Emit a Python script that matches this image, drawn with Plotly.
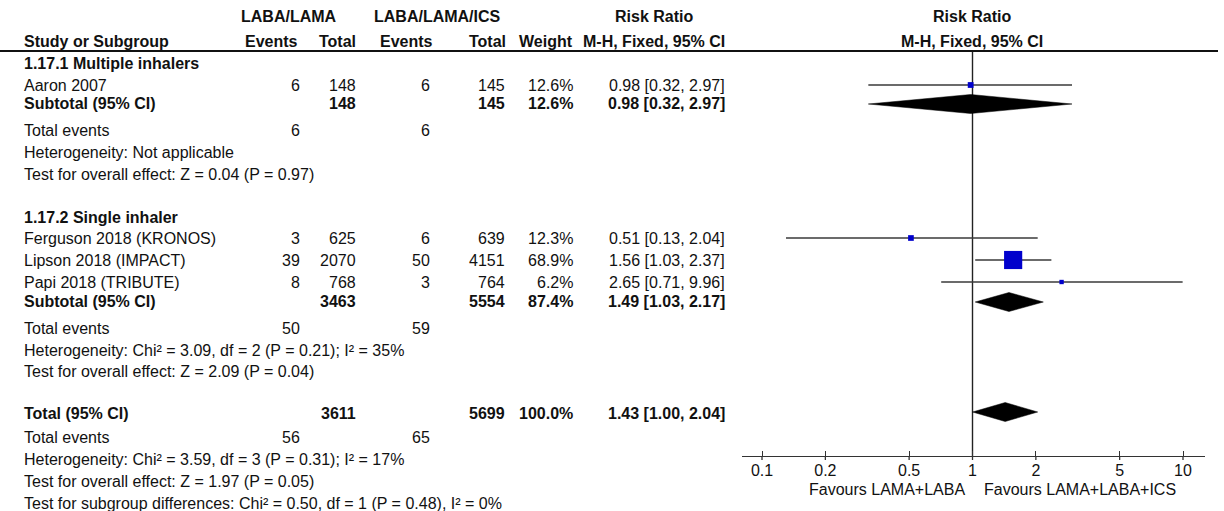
import plotly.graph_objects as go

# ---------------- data ----------------
studies = ["Aaron 2007", "Ferguson 2018 (KRONOS)", "Lipson 2018 (IMPACT)", "Papi 2018 (TRIBUTE)"]
study_group = [0, 1, 1, 1]
events_lal = [6, 3, 39, 8]
total_lal = [148, 625, 2070, 768]
events_ics = [6, 6, 50, 3]
total_ics = [145, 639, 4151, 764]
weights = [12.6, 12.3, 68.9, 6.2]
rr = [0.98, 0.51, 1.56, 2.65]
rr_lo = [0.32, 0.13, 1.03, 0.71]
rr_hi = [2.97, 2.04, 2.37, 9.96]

groups = ["1.17.1 Multiple inhalers", "1.17.2 Single inhaler"]
grp_total_lal = [148, 3463]
grp_total_ics = [145, 5554]
grp_events_lal = [6, 50]
grp_events_ics = [6, 59]
grp_weight = [12.6, 87.4]
grp_rr = [0.98, 1.49]
grp_lo = [0.32, 1.03]
grp_hi = [2.97, 2.17]
grp_het = ["Heterogeneity: Not applicable",
           "Heterogeneity: Chi² = 3.09, df = 2 (P = 0.21); I² = 35%"]
grp_test = ["Test for overall effect: Z = 0.04 (P = 0.97)",
            "Test for overall effect: Z = 2.09 (P = 0.04)"]

overall_total_lal = 3611
overall_total_ics = 5699
overall_events_lal = 56
overall_events_ics = 65
overall_weight = 100.0
overall_rr = 1.43
overall_lo = 1.00
overall_hi = 2.04
overall_het = "Heterogeneity: Chi² = 3.59, df = 3 (P = 0.31); I² = 17%"
overall_test = "Test for overall effect: Z = 1.97 (P = 0.05)"
subgroup_diff = "Test for subgroup differences: Chi² = 0.50, df = 1 (P = 0.48), I² = 0%"

tick_vals = [0.1, 0.2, 0.5, 1, 2, 5, 10]
tick_text = ["0.1", "0.2", "0.5", "1", "2", "5", "10"]
favours_left = "Favours LAMA+LABA"
favours_right = "Favours LAMA+LABA+ICS"

# ---------------- layout (pixel positions) ----------------
W, H = 1224, 511
FONT = "Liberation Sans, Arial, sans-serif"
FS = 16
TXT = "#111111"
COL = dict(label=22, ev1=302, n1=358, ev2=432, n2=507, w=575, ci=727)
Y_HDR1, Y_HDR2, Y_LINE = 16, 41, 51
group_rows = [
    dict(head=63, studies=[85], sub=103, te=130, het=152, test=174),
    dict(head=217, studies=[238, 260, 282], sub=301, te=328, het=350, test=371),
]
Y_TOT, Y_TE, Y_HET, Y_TEST, Y_DIFF = 413, 437, 459, 481, 503
Y_AXIS, Y_FAV = 456, 489
AX_LEFT, AX_RIGHT = 742, 1205
PX_ONE, PX_DECADE = 972.5, 210.5
DIAMOND_H = 9.5

annotations = []


def txt(x, y, s, anchor="left", bold=False, size=FS):
    annotations.append(dict(
        x=x / W, y=y, xref="paper", yref="y", text=("<b>%s</b>" % s) if bold else s,
        xanchor=anchor, yanchor="middle", showarrow=False,
        font=dict(family=FONT, size=size, color=TXT)))


def ci_text(est, lo, hi):
    return "%.2f [%.2f, %.2f]" % (est, lo, hi)


fig = go.Figure()

# header
txt(289, Y_HDR1, "LABA/LAMA", "center", True)
txt(437, Y_HDR1, "LABA/LAMA/ICS", "center", True)
txt(654, Y_HDR1, "Risk Ratio", "center", True)
txt(972, Y_HDR1, "Risk Ratio", "center", True)
txt(COL["label"], Y_HDR2, "Study or Subgroup", "left", True)
txt(300, Y_HDR2, "Events", "right", True)
txt(COL["n1"], Y_HDR2, "Total", "right", True)
txt(435, Y_HDR2, "Events", "right", True)
txt(508, Y_HDR2, "Total", "right", True)
txt(COL["w"], Y_HDR2, "Weight", "right", True)
txt(COL["ci"], Y_HDR2, "M-H, Fixed, 95% CI", "right", True)
txt(972, Y_HDR2, "M-H, Fixed, 95% CI", "center", True)

shapes = [dict(type="line", xref="paper", yref="y", x0=0, x1=1218 / W, y0=Y_LINE, y1=Y_LINE,
               line=dict(color="#111111", width=2))]

# vertical line of no effect
fig.add_trace(go.Scatter(x=[1, 1], y=[Y_LINE, Y_AXIS], mode="lines",
                         line=dict(color="#222222", width=1.4), hoverinfo="skip"))


def diamond(est, lo, hi, y):
    fig.add_trace(go.Scatter(x=[lo, est, hi, est, lo],
                             y=[y, y - DIAMOND_H, y, y + DIAMOND_H, y],
                             mode="lines", fill="toself", fillcolor="#000000",
                             line=dict(color="#000000", width=0.5), hoverinfo="skip"))


for g, rows in enumerate(group_rows):
    txt(COL["label"], rows["head"], groups[g], "left", True)
    idx = [i for i, sg in enumerate(study_group) if sg == g]
    for k, i in enumerate(idx):
        y = rows["studies"][k]
        txt(COL["label"], y, studies[i])
        txt(COL["ev1"], y, str(events_lal[i]), "right")
        txt(COL["n1"], y, str(total_lal[i]), "right")
        txt(COL["ev2"], y, str(events_ics[i]), "right")
        txt(COL["n2"], y, str(total_ics[i]), "right")
        txt(COL["w"], y, "%.1f%%" % weights[i], "right")
        txt(COL["ci"], y, ci_text(rr[i], rr_lo[i], rr_hi[i]), "right")
        fig.add_trace(go.Scatter(x=[rr_lo[i], rr_hi[i]], y=[y, y], mode="lines",
                                 line=dict(color="#3a3a3a", width=1.4), hoverinfo="skip"))
        fig.add_trace(go.Scatter(x=[rr[i]], y=[y], mode="markers",
                                 marker=dict(symbol="square", color="#0000CC",
                                             size=3 + 22 * weights[i] / 100,
                                             line=dict(width=0)), hoverinfo="skip"))
    ys = rows["sub"]
    txt(COL["label"], ys, "Subtotal (95% CI)", "left", True)
    txt(COL["n1"], ys, str(grp_total_lal[g]), "right", True)
    txt(COL["n2"], ys, str(grp_total_ics[g]), "right", True)
    txt(COL["w"], ys, "%.1f%%" % grp_weight[g], "right", True)
    txt(COL["ci"], ys, ci_text(grp_rr[g], grp_lo[g], grp_hi[g]), "right", True)
    diamond(grp_rr[g], grp_lo[g], grp_hi[g], ys + 1)
    txt(COL["label"], rows["te"], "Total events")
    txt(COL["ev1"], rows["te"], str(grp_events_lal[g]), "right")
    txt(COL["ev2"], rows["te"], str(grp_events_ics[g]), "right")
    txt(COL["label"], rows["het"], grp_het[g])
    txt(COL["label"], rows["test"], grp_test[g])

# overall
txt(COL["label"], Y_TOT, "Total (95% CI)", "left", True)
txt(COL["n1"], Y_TOT, str(overall_total_lal), "right", True)
txt(COL["n2"], Y_TOT, str(overall_total_ics), "right", True)
txt(COL["w"], Y_TOT, "%.1f%%" % overall_weight, "right", True)
txt(COL["ci"], Y_TOT, ci_text(overall_rr, overall_lo, overall_hi), "right", True)
diamond(overall_rr, overall_lo, overall_hi, Y_TOT - 1)
txt(COL["label"], Y_TE, "Total events")
txt(COL["ev1"], Y_TE, str(overall_events_lal), "right")
txt(COL["ev2"], Y_TE, str(overall_events_ics), "right")
txt(COL["label"], Y_HET, overall_het)
txt(COL["label"], Y_TEST, overall_test)
txt(COL["label"], Y_DIFF, subgroup_diff)

# lower halves of tick marks (axis draws upper halves, labels sit close to the line)
tx, ty = [], []
for t in tick_vals:
    tx += [t, t, None]
    ty += [Y_AXIS, Y_AXIS + 4, None]
fig.add_trace(go.Scatter(x=tx, y=ty, mode="lines", line=dict(color="#333333", width=1.3),
                         hoverinfo="skip"))

txt(967, Y_FAV, favours_left, "right", size=16)
txt(982, Y_FAV, favours_right, "left", size=16)

log_left = -(PX_ONE - AX_LEFT) / PX_DECADE
log_right = (AX_RIGHT - PX_ONE) / PX_DECADE

fig.update_layout(
    width=W, height=H, margin=dict(l=0, r=0, t=0, b=0),
    paper_bgcolor="white", plot_bgcolor="rgba(0,0,0,0)", showlegend=False,
    font=dict(family=FONT, size=FS, color=TXT),
    xaxis=dict(type="log", range=[log_left, log_right],
               domain=[AX_LEFT / W, AX_RIGHT / W], anchor="free",
               position=(H - Y_AXIS) / H,
               showline=True, linecolor="#333333", linewidth=1.3,
               ticks="inside", ticklen=5, tickwidth=1.3, tickcolor="#333333",
               tickvals=tick_vals, ticktext=tick_text,
               tickfont=dict(family=FONT, size=16, color=TXT),
               showgrid=False, zeroline=False),
    yaxis=dict(range=[H, 0], domain=[0, 1], visible=False, showgrid=False, zeroline=False),
    annotations=annotations, shapes=shapes,
)

fig.write_html("out.html", config={"displayModeBar": False})
